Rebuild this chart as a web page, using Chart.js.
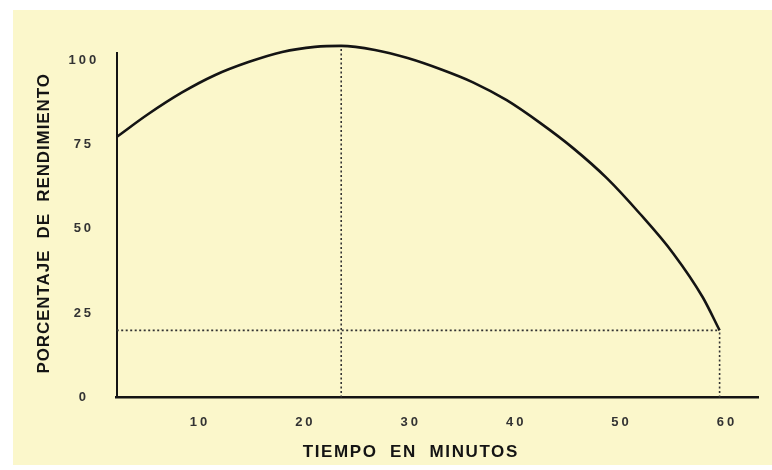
<!DOCTYPE html>
<html><head><meta charset="utf-8">
<script src="https://cdn.jsdelivr.net/npm/chart.js@4"></script>
<style>html,body{margin:0;padding:0;background:#fff;}canvas{display:block;}</style>
</head><body>
<canvas id="c" width="772" height="470"></canvas>
<script>
// Data
const minutes = [2.1, 5.1, 8.3, 11.4, 14.6, 17.8, 20.9, 23.4, 26.6, 29.7, 32.9, 35.9, 39.1, 42.3, 45.4, 48.6, 51.7, 54.9, 57.7, 59.3];
const percent = [77.2, 84.0, 90.4, 95.5, 99.4, 102.4, 103.9, 104.2, 103.0, 100.6, 97.2, 93.4, 88.1, 81.3, 73.9, 65.0, 54.6, 42.7, 29.7, 19.9];
const xTicks = [10, 20, 30, 40, 50, 60];
const yTicks = [0, 25, 50, 75, 100];
const xTitle = 'TIEMPO  EN  MINUTOS';
const yTitle = 'PORCENTAJE  DE  RENDIMIENTO';
const xMin = 2.1, xMax = 63, yMin = 0, yMax = 102;

const curve = minutes.map((m, i) => ({x: m, y: percent[i]}));
let peakIdx = 0;
percent.forEach((v, i) => { if (v > percent[peakIdx]) peakIdx = i; });
const last = minutes.length - 1;
const peakLine = [{x: minutes[peakIdx], y: yMin}, {x: minutes[peakIdx], y: percent[peakIdx]}];
const endHLine = [{x: xMin, y: percent[last]}, {x: minutes[last], y: percent[last]}];
const endVLine = [{x: minutes[last], y: yMin}, {x: minutes[last], y: percent[last]}];

const FONT = "'Liberation Sans', Arial, sans-serif";
const ink = '#141414';
const dotted = {borderColor: '#333333', borderWidth: 1.6, borderDash: [2, 2.5], pointRadius: 0, fill: false, tension: 0, clip: false};

const decor = {
  id: 'decor',
  beforeDraw(chart) {
    const ctx = chart.ctx;
    ctx.save();
    ctx.fillStyle = '#ffffff';
    ctx.fillRect(0, 0, chart.width, chart.height);
    ctx.fillStyle = '#FBF7CB';
    ctx.fillRect(13, 10, chart.width - 13, chart.height - 15);
    ctx.restore();
    ctx.letterSpacing = '3px';
  },
  afterDraw(chart) {
    const ctx = chart.ctx;
    const xs = chart.scales.x, ys = chart.scales.y;
    ctx.save();
    ctx.fillStyle = ink;
    ctx.font = 'bold 17px ' + FONT;
    ctx.textAlign = 'center';
    ctx.textBaseline = 'middle';
    ctx.letterSpacing = '1.6px';
    ctx.fillText(xTitle, xs.getPixelForValue(30), 452);
    ctx.translate(44, (ys.top + ys.bottom) / 2 - 2);
    ctx.rotate(-Math.PI / 2);
    ctx.letterSpacing = '0.9px';
    ctx.fillText(yTitle, 0, 0);
    ctx.restore();
    ctx.letterSpacing = '0px';
  }
};

new Chart(document.getElementById('c'), {
  type: 'line',
  data: {
    datasets: [
      {data: curve, borderColor: ink, borderWidth: 2.6, pointRadius: 0, fill: false, cubicInterpolationMode: 'monotone', clip: false},
      Object.assign({data: peakLine}, dotted),
      Object.assign({data: endHLine}, dotted),
      Object.assign({data: endVLine}, dotted)
    ]
  },
  options: {
    responsive: false,
    animation: false,
    devicePixelRatio: 1,
    layout: {padding: {top: 53.3, right: 13.4, bottom: 0, left: 0}},
    plugins: {legend: {display: false}, tooltip: {enabled: false}},
    scales: {
      x: {
        type: 'linear', min: xMin, max: xMax,
        grid: {display: false},
        border: {display: true, color: ink, width: 2.5},
        afterFit: s => { s.height = 72.5; },
        afterBuildTicks: s => { s.ticks = xTicks.map(v => ({value: v})); },
        ticks: {padding: 9, color: '#333', font: {family: FONT, size: 13, weight: 'bold'}, maxRotation: 0, autoSkip: false}
      },
      y: {
        type: 'linear', min: yMin, max: yMax,
        grid: {display: false},
        border: {display: true, color: ink, width: 2},
        afterFit: s => { s.width = 116.7; },
        afterBuildTicks: s => { s.ticks = yTicks.map(v => ({value: v})); },
        ticks: {padding: 14, crossAlign: 'center', color: '#333', font: {family: FONT, size: 13, weight: 'bold'}}
      }
    }
  },
  plugins: [decor]
});
</script>
</body></html>
